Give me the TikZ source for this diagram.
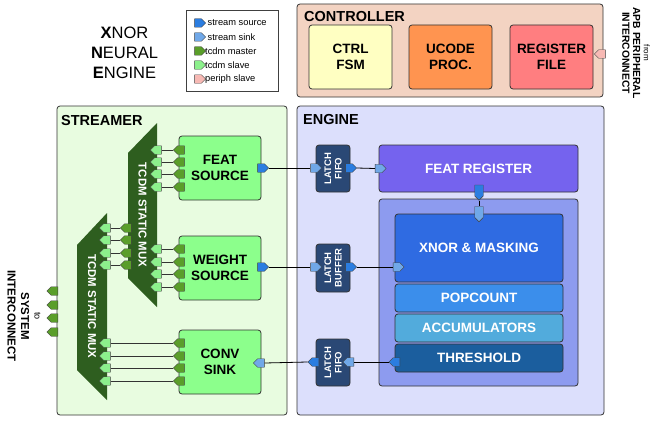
\documentclass[tikz,border=0pt]{standalone}
\usepackage{fontspec}
\setmainfont{Liberation Sans}
\usetikzlibrary{shapes.symbols}
\definecolor{edgec}{HTML}{333333}
\definecolor{ctrlc}{HTML}{F3D3C2}
\definecolor{fsmc}{HTML}{FFFFC2}
\definecolor{ucodec}{HTML}{FF9450}
\definecolor{regc}{HTML}{FF7E80}
\definecolor{strc}{HTML}{E8FCE0}
\definecolor{engc}{HTML}{DCDFFC}
\definecolor{srcblk}{HTML}{8CFF8C}
\definecolor{muxc}{HTML}{2E5E1F}
\definecolor{latchc}{HTML}{2A4875}
\definecolor{fregc}{HTML}{7563EE}
\definecolor{compc}{HTML}{8D9BEF}
\definecolor{xnorc}{HTML}{2F6BE2}
\definecolor{popc}{HTML}{3B8EEB}
\definecolor{accc}{HTML}{52ABDC}
\definecolor{thrc}{HTML}{1B5E9E}
\definecolor{ssrc}{HTML}{2B7DE0}
\definecolor{ssink}{HTML}{70A8E8}
\definecolor{tmast}{HTML}{5A9E2A}
\definecolor{tslave}{HTML}{8CF08C}
\definecolor{pslave}{HTML}{F7B9B4}
\tikzset{
  blk/.style={draw=edgec, rounded corners=3pt, line width=0.8pt, inner sep=0pt, align=center,
    font=\bfseries\fontsize{13.5}{15.5}\selectfont},
  wblk/.style={blk, text=white},
  grp/.style={draw=edgec, rounded corners=3pt, line width=0.8pt, inner sep=0pt},
  grptitle/.style={anchor=base west, inner sep=0pt, font=\bfseries\fontsize{14.5}{16}\selectfont},
  titlef/.style={anchor=base, inner sep=0pt, font=\fontsize{16.5}{20}\selectfont},
  legt/.style={anchor=west, inner sep=0pt, font=\fontsize{9.3}{11}\selectfont},
  port/.style={shape=signal, draw=black!75, line width=0.4pt, inner sep=0pt,
    minimum width=11pt, minimum height=8.5pt},
  vport/.style={shape=signal, draw=black!75, line width=0.4pt, inner sep=0pt,
    minimum width=8.5pt, minimum height=11pt},
  latchbox/.style={draw=edgec, fill=latchc, rounded corners=3pt, line width=0.8pt,
    minimum width=34pt, minimum height=47pt, inner sep=0pt},
  latcht/.style={rotate=90, text=white, align=center, inner sep=0pt,
    font=\bfseries\fontsize{9.5}{10.5}\selectfont},
  muxt/.style={rotate=-90, text=white, inner sep=0pt, font=\bfseries\fontsize{11.4}{13}\selectfont},
  wire/.style={draw=black, line width=0.8pt},
  twire/.style={draw=black!80, line width=0.7pt}
}
\begin{document}
\begin{tikzpicture}[x=1pt,y=-1pt]
\useasboundingbox[fill=white] (0,0) rectangle (650,420);

% title
\node[titlef] (t1) at (124.5,38.3) {\textbf{X}NOR};
\node[titlef] (t2) at (124.5,58.3) {\textbf{N}EURAL};
\node[titlef] (t3) at (124.5,78.3) {\textbf{E}NGINE};

% legend
\node[draw=black!75, line width=0.7pt, minimum width=92pt, minimum height=81pt, inner sep=0pt] (leg) at (232,50.5) {};
\node[port, signal to=east, fill=ssrc] (l1) at (198,23) {};
\node[port, signal to=east, fill=ssink] (l2) at (198,37) {};
\node[port, signal to=east, fill=tmast] (l3) at (198,51) {};
\node[port, signal to=east, fill=tslave] (l4) at (198,65) {};
\node[port, signal to=east, fill=pslave] (l5) at (198,79) {};
\node[legt] (l1t) at (207.5,23) {stream source};
\node[legt] (l2t) at (207.5,37) {stream sink};
\node[legt] (l3t) at (205,51) {tcdm master};
\node[legt] (l4t) at (205,65) {tcdm slave};
\node[legt] (l5t) at (205,79) {periph slave};

% controller
\node[grp, fill=ctrlc, minimum width=306pt, minimum height=93pt] (ctrl) at (450,50.5) {};
\node[grptitle] (ctrlt) at (304,21.5) {CONTROLLER};
\node[blk, fill=fsmc, minimum width=83pt, minimum height=64pt] (fsm) at (350.5,57) {CTRL\\FSM};
\node[blk, fill=ucodec, minimum width=83pt, minimum height=64pt] (ucode) at (450.5,57) {UCODE\\PROC.};
\node[blk, fill=regc, minimum width=83pt, minimum height=64pt] (regf) at (551.5,57) {REGISTER\\FILE};
\node[port, signal to=west, fill=pslave] (pp) at (602,54) {};
\node[rotate=-90, align=center, inner sep=0pt, font=\bfseries\fontsize{10.3}{10.8}\selectfont] (apb) at (636,53)
  {{\mdseries\fontsize{8}{10.8}\selectfont from}\\APB PERIPHERAL\\INTERCONNECT};

% streamer
\node[grp, fill=strc, minimum width=230pt, minimum height=309pt] (str) at (172,260.5) {};
\node[grptitle] (strt) at (61,125) {STREAMER};

% engine
\node[grp, fill=engc, minimum width=307pt, minimum height=309pt] (eng) at (450.5,260.5) {};
\node[grptitle] (engt) at (303,124) {ENGINE};

% muxes
\fill[muxc] (128,153) -- (157,123) -- (157,307) -- (128,278) -- cycle;
\fill[muxc] (77,245) -- (107,213) -- (107,400) -- (77,370) -- cycle;
\node[muxt] (m1t) at (142.5,215) {TCDM STATIC MUX};
\node[muxt] (m2t) at (92,306.5) {TCDM STATIC MUX};

% streamer blocks
\node[blk, fill=srcblk, minimum width=82pt, minimum height=64pt] (fs) at (220,168) {FEAT\\SOURCE};
\node[blk, fill=srcblk, minimum width=82pt, minimum height=64pt] (ws) at (220,268) {WEIGHT\\SOURCE};
\node[blk, fill=srcblk, minimum width=82pt, minimum height=64pt] (cs) at (220,362) {CONV\\SINK};

% engine blocks
\node[latchbox] (lf1) at (333,168.5) {};
\node[latcht] (lf1t) at (lf1.center) {LATCH\\FIFO};
\node[latchbox, minimum height=48pt] (lb) at (333,268) {};
\node[latcht] (lbt) at (lb.center) {LATCH\\BUFFER};
\node[latchbox] (lf2) at (333,362.5) {};
\node[latcht] (lf2t) at (lf2.center) {LATCH\\FIFO};

\node[wblk, fill=fregc, minimum width=199pt, minimum height=47pt] (freg) at (478.5,168.5) {FEAT REGISTER};
\node[grp, fill=compc, minimum width=199pt, minimum height=187pt] (comp) at (478.5,292.5) {};
\node[wblk, fill=xnorc, minimum width=168pt, minimum height=68pt] (xnor) at (479,248) {XNOR \& MASKING};
\node[wblk, fill=popc, minimum width=168pt, minimum height=28pt] (pop) at (479,298) {POPCOUNT};
\node[wblk, fill=accc, minimum width=168pt, minimum height=28pt] (acc) at (479,328) {ACCUMULATORS};
\node[wblk, fill=thrc, minimum width=168pt, minimum height=28pt] (thr) at (479,358) {THRESHOLD};

% stream ports
\node[port, signal to=east, fill=ssrc] (fso) at (261,168) {};
\node[port, signal to=east, fill=ssink] (lf1i) at (314,168) {};
\node[port, signal to=east, fill=ssrc] (lf1o) at (349,168) {};
\node[port, signal to=east, fill=ssink] (fri) at (378.5,168.5) {};
\node[port, signal to=east, fill=ssrc] (wso) at (261,267) {};
\node[port, signal to=east, fill=ssink] (lbi) at (314,267) {};
\node[port, signal to=east, fill=ssrc] (lbo) at (349,267) {};
\node[port, signal to=east, fill=ssink] (xmi) at (396.5,267) {};
\node[vport, signal to=south, fill=ssrc] (fro) at (479,190.5) {};
\node[vport, signal to=south, fill=ssink] (xmt) at (479,212) {};
\node[port, signal to=west, fill=ssrc] (tho) at (396.5,362) {};
\node[port, signal to=west, fill=ssink] (lf2i) at (350.5,362) {};
\node[port, signal to=west, fill=ssrc] (lf2o) at (315.5,362) {};
\node[port, signal to=west, fill=ssink] (csi) at (261,363) {};

\draw[wire] (fso.east) -- (lf1i.west);
\draw[wire] (lf1o.east) -- (fri.west);
\draw[wire] (wso.east) -- (lbi.west);
\draw[wire] (lbo.east) -- (xmi.west);
\draw[wire] (fro.south) -- (xmt.north);
\draw[wire] (tho.west) -- (lf2i.east);
\draw[wire] (lf2o.west) -- (csi.east);

% tcdm ports
\foreach \y [count=\i] in {150,162,174,187} {
  \node[port, signal to=west, fill=tslave] (m1f\i) at (158,\y) {};
  \node[port, signal to=west, fill=tmast] (fsm\i) at (181,\y) {};
  \draw[twire] (m1f\i.east) -- (fsm\i.west);
}
\foreach \y [count=\i] in {249,262,274,287} {
  \node[port, signal to=west, fill=tslave] (m1w\i) at (158,\y) {};
  \node[port, signal to=west, fill=tmast] (wsm\i) at (181,\y) {};
  \draw[twire] (m1w\i.east) -- (wsm\i.west);
}
\foreach \y [count=\i] in {228,240,253,265} {
  \node[port, signal to=west, fill=tslave] (m2a\i) at (107,\y) {};
  \node[port, signal to=west, fill=tmast] (m1m\i) at (128,\y) {};
  \draw[twire] (m2a\i.east) -- (m1m\i.west);
}
\foreach \y [count=\i] in {343,356,368,381} {
  \node[port, signal to=west, fill=tslave] (m2c\i) at (107,\y) {};
  \node[port, signal to=west, fill=tmast] (csm\i) at (181,\y) {};
  \draw[twire] (m2c\i.east) -- (csm\i.west);
}
\foreach \y [count=\i] in {291,305,318,332} {
  \node[port, signal to=west, fill=tmast] (sys\i) at (54.5,\y) {};
}
\node[rotate=-90, align=center, inner sep=0pt, font=\bfseries\fontsize{11.5}{13.5}\selectfont] (syst) at (24,316)
  {{\mdseries\fontsize{9}{13.5}\selectfont to}\\SYSTEM\\INTERCONNECT};
\end{tikzpicture}
\end{document}
